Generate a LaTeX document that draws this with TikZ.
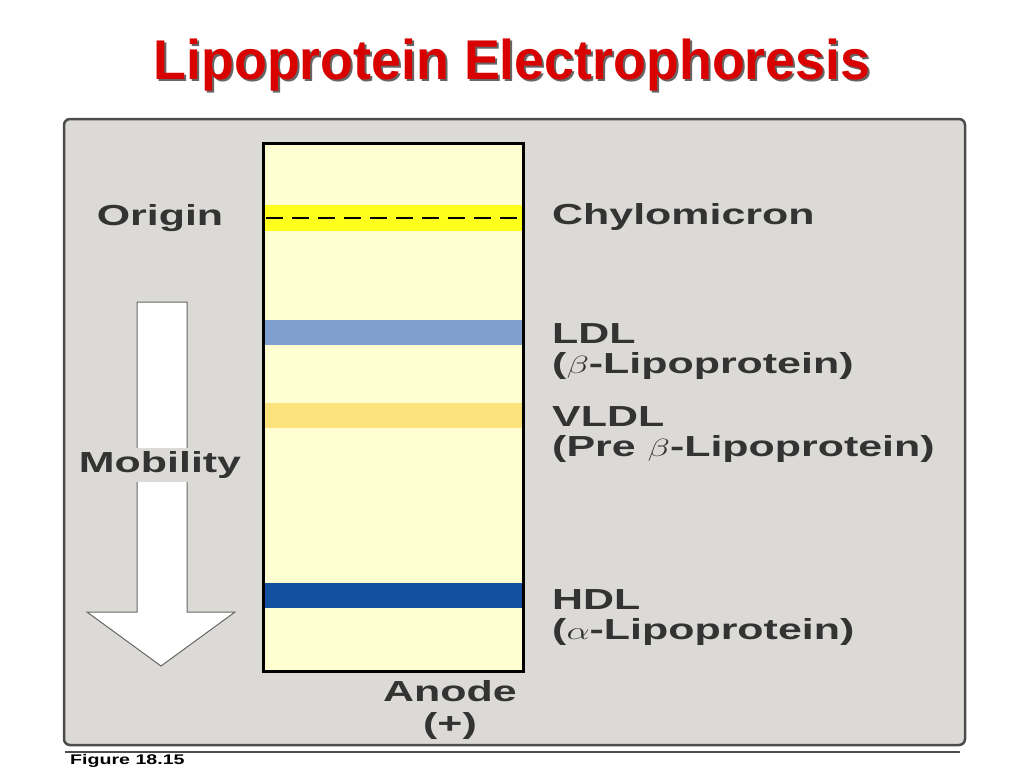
\documentclass[tikz,border=0pt]{standalone}
\usepackage{fontspec}
\setmainfont{Liberation Sans}
\definecolor{ldlc}{HTML}{7F9FCF}
\definecolor{vldlc}{HTML}{FCE27A}
\definecolor{hdlc}{HTML}{1450A0}
\definecolor{chyc}{HTML}{FFFF1E}
\definecolor{stripc}{HTML}{FFFFD2}
\definecolor{panelc}{HTML}{DCDAD6}
\newcommand{\wide}[1]{\scalebox{1.48}[1]{#1}}
\begin{document}
\begin{tikzpicture}[x=1pt,y=-1pt,
  lbl/.style={font=\bfseries\fontsize{29}{33}\selectfont, text=black!80, anchor=west, inner sep=0}]
\useasboundingbox (0,0) rectangle (1024,768);
\fill[white] (0,0) rectangle (1024,768);
\node (tsh) at (514,67) {\fontsize{56}{60}\selectfont\bfseries\scalebox{0.96}[1]{\textcolor{black!60}{Lipoprotein Electrophoresis}}};
\node (title) at (512,65) {\fontsize{56}{60}\selectfont\bfseries\scalebox{0.96}[1]{\textcolor{red!85!black}{Lipoprotein Electrophoresis}}};
\draw[draw=black!70, line width=2.5, fill=panelc, rounded corners=6] (64,119) rectangle (965,745);
\draw[black!70, line width=1.5] (65,752) -- (960,752);
\node[anchor=north west, inner sep=0, font=\bfseries\fontsize{14}{16}\selectfont] (fig) at (70,754) {\scalebox{1.4}[1]{Figure 18.15}};
% strip
\fill[stripc] (263,143) rectangle (523,671);
\fill[chyc] (263,205) rectangle (523,231);
\draw[line width=2.5, dash pattern=on 17pt off 9pt] (266,218) -- (520,218);
\fill[ldlc] (263,320) rectangle (523,345);
\fill[vldlc] (263,403) rectangle (523,428);
\fill[hdlc] (263,583) rectangle (523,608);
\draw[line width=3] (263,143) rectangle (523,671);
% arrow
\draw[fill=white, draw=black!60, line width=1] (137,302) -- (187,302) -- (187,612) -- (235,612) -- (161,666) -- (87,612) -- (137,612) -- cycle;
% labels
\node[lbl, anchor=center] (origin) at (160,218) {\wide{Origin}};
\node[lbl] (chy) at (552,217) {\wide{Chylomicron}};
\node[lbl] (ldl) at (552,334) {\wide{LDL}};
\node[lbl] (ldl2) at (552,366) {\wide{($\beta$-Lipoprotein)}};
\node[lbl] (vldl) at (552,417) {\wide{VLDL}};
\node[lbl] (vldl2) at (552,449) {\wide{(Pre $\beta$-Lipoprotein)}};
\node[lbl] (hdl) at (552,600) {\wide{HDL}};
\node[lbl] (hdl2) at (552,632) {\wide{($\alpha$-Lipoprotein)}};
\node[lbl, anchor=center] (anode) at (450,691) {\wide{Anode}};
\node[lbl, anchor=center] (plus) at (450,726) {\wide{(+)}};
\node[lbl, anchor=center, fill=panelc, inner sep=3] (mob) at (160,465) {\wide{Mobility}};
\end{tikzpicture}
\end{document}
